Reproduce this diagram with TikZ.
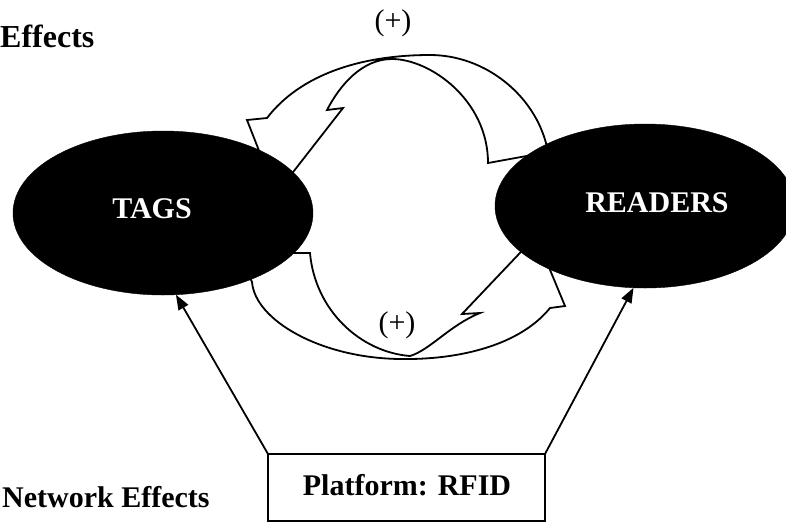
\documentclass[tikz,border=0pt]{standalone}
\usepackage{fontspec}
\setmainfont{Liberation Serif}
\usetikzlibrary{shapes.geometric,arrows.meta}
\begin{document}
\begin{tikzpicture}[x=1pt,y=-1pt,
  blob/.style={ellipse,fill=black,draw=black,minimum width=300pt,minimum height=164pt,inner sep=0pt,outer sep=0pt},
  big/.style={font=\bfseries\fontsize{30}{36}\selectfont,inner sep=0pt,anchor=base},
  plus/.style={font=\fontsize{30}{36}\selectfont,inner sep=0pt,anchor=base},
  band/.style={draw=black,fill=white,line width=1.8pt,line join=miter},
  conn/.style={draw=black,line width=1.8pt,-{Triangle[length=15pt,width=11pt]}},
  boxstyle/.style={draw=black,line width=1.8pt,minimum width=277pt,minimum height=67pt,inner sep=0pt,outer sep=0pt}
]
\useasboundingbox (0,0) rectangle (786,523);
% upper loop arrow (READERS -> TAGS)
\path[band] (488,163) .. controls (488,100) and (430,59) .. (392,59)
  .. controls (362,59) and (340,85) .. (327,110) -- (343,108) -- (276,194)
  -- (247,120) -- (267,118) .. controls (300,75) and (360,55) .. (430,55)
  .. controls (485,55) and (535,95) .. (547,147) -- (565,149) -- cycle;
% lower loop arrow (TAGS -> READERS)
\path[band] (310,253) .. controls (315,310) and (360,352) .. (410,356)
  .. controls (430,350) and (450,325) .. (480,313) -- (462,314) -- (536,236)
  -- (565,306) -- (550,308) .. controls (520,345) and (460,360) .. (400,359)
  .. controls (320,358) and (255,320) .. (252,282) -- (243,262) -- (255,253) -- cycle;
% ellipses
\node[blob] (tags) at (163,213) {};
\node[blob] (readers) at (645,206) {};
\node[big,text=white] (tagstxt) at (152,218) {TAGS};
\node[big,text=white] (readerstxt) at (657,212) {READERS};
% labels
\node[plus] (plustop) at (393,30) {(+)};
\node[plus] (plusbot) at (397,332) {(+)};
\node[font=\bfseries\fontsize{32}{38}\selectfont,inner sep=0pt,anchor=base west] (eff) at (0,47) {Effects};
\node[font=\bfseries\fontsize{30}{36}\selectfont,inner sep=0pt,anchor=base west] (neteff) at (2,507) {Network Effects};
% platform
\node[boxstyle] (platform) at (406.5,487.5) {};
\node[big] (platformtxt) at (407,495) {Platform: RFID};
\draw[conn] (platform.north west) -- (tags.-81.7);
\draw[conn] (platform.north east) -- (readers.-98.3);
\end{tikzpicture}
\end{document}
